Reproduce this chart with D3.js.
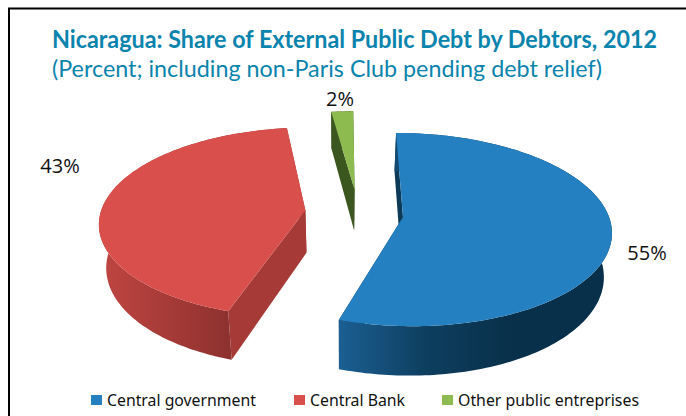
<!DOCTYPE html>
<html>
<head>
<meta charset="utf-8">
<script src="https://cdn.jsdelivr.net/npm/d3@7"></script>
<style>
  html, body { margin: 0; padding: 0; background: #fff; }
  svg { display: block; }
</style>
</head>
<body>
<svg id="chart" width="686" height="416"></svg>
<script>
// Debt shares by debtor, in percent
const categories = ["Central government", "Central Bank", "Other public entreprises"];
const shares = [55, 43, 2];
const shareLabels = ["55%", "43%", "2%"];
const titleText = "Nicaragua: Share of External Public Debt by Debtors, 2012";
const subtitleText = "(Percent; including non-Paris Club pending debt relief)";

const faceColors = ["#2580c1", "#d94f4c", "#8dbb4f"];
const innerWallColors = ["#0c3a57", "#a63a37", "#3c5620"];
const wallStops = [
  ["#1b5f93", "#0e3f60", "#08304a"],
  ["#bf4642", "#a83b38", "#8e322f"],
  ["#3c5620", "#3c5620", "#3c5620"]
];

// Perspective pie: the disc lies in a plane seen from above and the walls drop below it
const radius = 206;
const depth = 43;
const vanishX = 343;
const horizonY = 217;
const tilt = 95;
const foreshorten = 0.13;
const wallTaper = 0.97;
const explode = [[60, 0], [-38, -15], [12, -62]];

const svg = d3.select("#chart");
const defs = svg.append("defs");
const color = d3.scaleOrdinal(categories, faceColors);

const pieLayout = d3.pie().sort(null).value(d => d);
const arcs = pieLayout(shares);

function project(px, py, lower) {
  const s = 1 / (1 - foreshorten * py / radius);
  let x = vanishX + px * s;
  let y = horizonY + tilt * (py / radius) * s;
  if (lower) {
    x = vanishX + (x - vanishX) * wallTaper;
    y += depth * s;
  }
  return [x, y];
}

function rimPoint(i, theta, lower) {
  const [ox, oy] = explode[i];
  return project(ox + radius * Math.sin(theta), oy - radius * Math.cos(theta), lower);
}

function apexPoint(i, lower) {
  const [ox, oy] = explode[i];
  return project(ox, oy, lower);
}

function rimPath(i, a0, a1, lower) {
  const n = Math.max(2, Math.ceil((a1 - a0) / 0.02));
  return d3.range(n + 1).map(k => rimPoint(i, a0 + (a1 - a0) * k / n, lower));
}

const line = d3.line().curve(d3.curveLinearClosed);

// Outer white ground and the partial black frame
svg.append("rect").attr("width", 686).attr("height", 416).attr("fill", "#fff");
svg.append("path")
  .attr("d", "M9,416V8.5H686")
  .attr("fill", "none")
  .attr("stroke", "#000")
  .attr("stroke-width", 2);

// Slices, painted from the inner walls up to the top face
const slices = svg.append("g").attr("class", "slices");
[2, 1, 0].forEach(i => {
  const a = arcs[i];
  const g = slices.append("g");

  [a.startAngle, a.endAngle].forEach(edge => {
    g.append("path")
      .attr("d", line([
        apexPoint(i, false), rimPoint(i, edge, false),
        rimPoint(i, edge, true), apexPoint(i, true)
      ]))
      .attr("fill", innerWallColors[i]);
  });

  const top = rimPath(i, a.startAngle, a.endAngle, false);
  const low = rimPath(i, a.startAngle, a.endAngle, true).reverse();
  const xs = top.map(p => p[0]);
  const front = top.filter(p => p[1] > horizonY - 20).map(p => p[0]);
  const gradId = "wall-" + i;
  const grad = defs.append("linearGradient")
    .attr("id", gradId)
    .attr("gradientUnits", "userSpaceOnUse")
    .attr("x1", i === 0 ? d3.min(front) : d3.min(xs))
    .attr("x2", i === 0 ? d3.min(front) + 170 : d3.max(front.length ? front : xs))
    .attr("y1", 0).attr("y2", 0);
  wallStops[i].forEach((c, k) => {
    grad.append("stop").attr("offset", k / 2).attr("stop-color", c);
  });
  g.append("path")
    .attr("d", line(top.concat(low)))
    .attr("fill", `url(#${gradId})`);

  g.append("path")
    .attr("d", line([apexPoint(i, false)].concat(top)))
    .attr("fill", color(categories[i]));
});

// Titles
const titleFont = "Lato, 'Open Sans', sans-serif";
svg.append("text")
  .attr("x", 52).attr("y", 48)
  .attr("textLength", 605).attr("lengthAdjust", "spacingAndGlyphs")
  .attr("font-family", titleFont).attr("font-weight", 700).attr("font-size", 24)
  .attr("fill", "#0a84ad")
  .text(titleText);
svg.append("text")
  .attr("x", 52).attr("y", 77)
  .attr("textLength", 550).attr("lengthAdjust", "spacingAndGlyphs")
  .attr("font-family", titleFont).attr("font-size", 24)
  .attr("fill", "#0a84ad")
  .text(subtitleText);

// Share labels
const labelAnchors = [[647, 260], [60, 173], [340, 106]];
svg.append("g").selectAll("text")
  .data(shareLabels)
  .join("text")
  .attr("x", (d, i) => labelAnchors[i][0])
  .attr("y", (d, i) => labelAnchors[i][1])
  .attr("text-anchor", "middle")
  .attr("font-family", "'Open Sans', sans-serif")
  .attr("font-size", 20)
  .attr("fill", "#111")
  .text(d => d);

// Legend
const legendSwatchX = [91, 294, 442];
const legendWidths = [149, 95, 181];
const legend = svg.append("g").selectAll("g")
  .data(categories)
  .join("g")
  .attr("transform", (d, i) => `translate(${legendSwatchX[i]},395)`);
legend.append("rect")
  .attr("width", 11).attr("height", 10)
  .attr("fill", d => color(d));
legend.append("text")
  .attr("x", 16).attr("y", 11)
  .attr("textLength", (d, i) => legendWidths[i])
  .attr("lengthAdjust", "spacingAndGlyphs")
  .attr("font-family", "'Noto Sans', sans-serif")
  .attr("font-size", 16)
  .attr("fill", "#111")
  .text(d => d);
</script>
</body>
</html>
